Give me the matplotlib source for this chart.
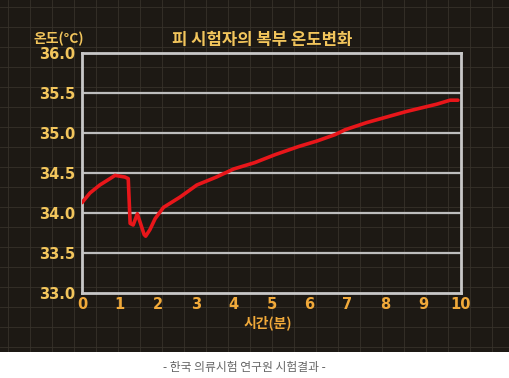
import matplotlib.pyplot as plt
import numpy as np

plt.rcParams['font.family'] = ['Noto Sans CJK KR', 'DejaVu Sans']

# time (min) and abdominal temperature (deg C)
minutes = [0.0, 0.21, 0.47, 0.74, 0.87, 1.0, 1.13, 1.22, 1.27, 1.35, 1.46,
           1.64, 1.68, 1.79, 1.93, 2.15, 2.59, 3.03, 3.55, 4.0, 4.56, 5.1,
           5.71, 6.2, 6.68, 6.94, 7.51, 8.04, 8.57, 8.92, 9.36, 9.71, 9.92]
temps = [34.13, 34.25, 34.35, 34.43, 34.47, 34.46, 34.45, 34.43, 33.87, 33.85,
         33.99, 33.73, 33.71, 33.79, 33.93, 34.07, 34.2, 34.35, 34.45, 34.55,
         34.63, 34.73, 34.83, 34.9, 34.98, 35.04, 35.13, 35.2, 35.27, 35.31,
         35.36, 35.41, 35.41]
x_ticks = list(range(0, 11))
y_ticks = [33.0, 33.5, 34.0, 34.5, 35.0, 35.5, 36.0]

gold = '#f2c55c'
orange = '#f0a93a'

fig = plt.figure(figsize=(5.1, 3.78), dpi=100)
fig.patch.set_facecolor('white')

# dark chalkboard-like backdrop with a faint grid
bg = fig.add_axes([0, 26 / 378, 1, 352 / 378])
bg.set_facecolor('#1d1914')
bg.set_xlim(0, 510)
bg.set_ylim(0, 352)
for gx in np.arange(8, 510, 22):
    bg.axvline(gx, color='#37322a', lw=0.6, zorder=0)
for gy in np.arange(0, 352, 20):
    bg.axhline(gy + 5, color='#37322a', lw=0.6, zorder=0)
bg.set_xticks([])
bg.set_yticks([])
for s in bg.spines.values():
    s.set_visible(False)

ax = fig.add_axes([82 / 510, 85 / 378, 379 / 510, 240 / 378])
ax.set_facecolor('none')
ax.set_xlim(0, 10)
ax.set_ylim(33.0, 36.0)
ax.set_xticks(x_ticks)
ax.set_yticks(y_ticks)
ax.set_yticklabels([f'{v:.1f}' for v in y_ticks])
for v in y_ticks[1:-1]:
    ax.axhline(v, color='#bdbdbd', lw=1.6, zorder=1)
for s in ax.spines.values():
    s.set_color('#c8c8c8')
    s.set_linewidth(2)
ax.tick_params(length=0)
ax.tick_params(axis='y', colors=gold, labelsize=10.5, pad=5)
ax.tick_params(axis='x', colors=orange, labelsize=10.5, pad=3)
for lab in ax.get_xticklabels() + ax.get_yticklabels():
    lab.set_fontweight('bold')
    lab.set_family('DejaVu Sans')

ax.plot(minutes, temps, color='#e8161a', lw=2.6, solid_capstyle='round', zorder=3)

fig.text(0.515, 0.893, '피 시험자의 복부 온도변화', color=gold, fontsize=12,
         fontweight='bold', ha='center', va='center')
fig.text(0.116, 0.898, '온도(°C)', color=gold, fontsize=10,
         fontweight='bold', ha='center', va='center')
fig.text(0.525, 0.147, '시간(분)', color=orange, fontsize=10,
         fontweight='bold', ha='center', va='center')
fig.text(0.48, 0.027, '- 한국 의류시험 연구원 시험결과 -', color='#666666',
         fontsize=8.5, ha='center', va='center')

fig.savefig('out.png', dpi=100, facecolor=fig.get_facecolor())
